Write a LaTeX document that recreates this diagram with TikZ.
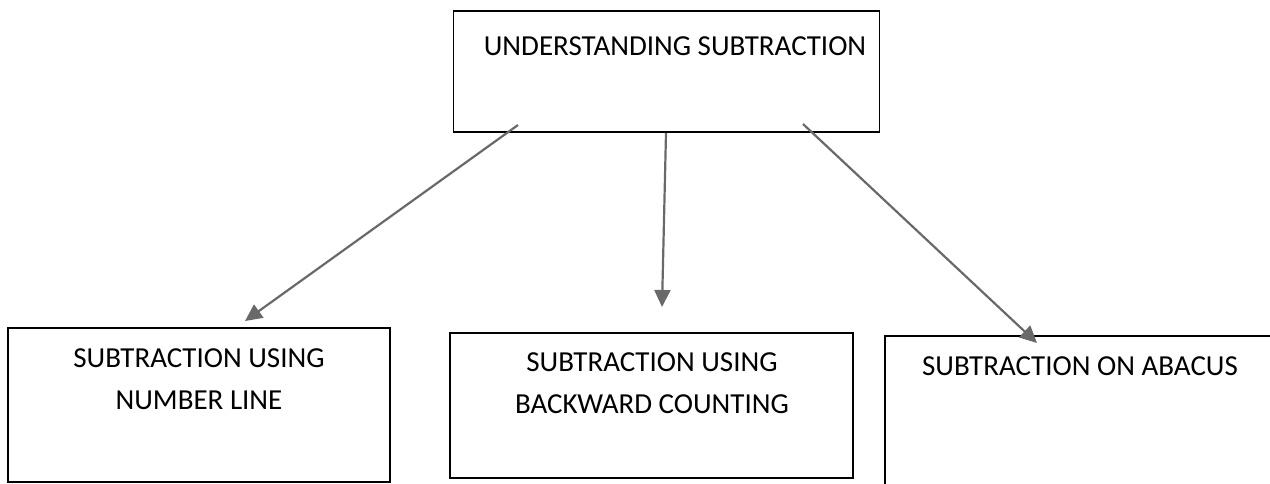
\documentclass[tikz,border=0pt]{standalone}
\usepackage{fontspec}
\setmainfont{Carlito}
\usetikzlibrary{arrows.meta}
\definecolor{arrgray}{RGB}{105,105,105}
\begin{document}
\begin{tikzpicture}[x=1pt,y=-1pt,
  box/.style={draw=black, line width=1.8pt, inner sep=0pt, outer sep=0pt},
  lbl/.style={font=\fontsize{29}{42}\selectfont, align=center, inner sep=0pt},
  arr/.style={draw=arrgray, line width=2.2pt, -{Triangle[length=17pt,width=16pt]}}]
\useasboundingbox (0,0) rectangle (1270,483);
\clip (0,0) rectangle (1270,483);
\node[box, minimum width=426pt, minimum height=121pt] (top) at (666.5,71.5) {};
\node[lbl] (toptxt) at (675,46) {UNDERSTANDING SUBTRACTION};
\node[box, minimum width=382pt, minimum height=154pt] (nl) at (199,405) {};
\node[lbl] (nltxt) at (199,379) {SUBTRACTION USING\\NUMBER LINE};
\node[box, minimum width=403pt, minimum height=145pt] (bc) at (651.5,405.5) {};
\node[lbl] (bctxt) at (652,383) {SUBTRACTION USING\\BACKWARD COUNTING};
\node[box, minimum width=420pt, minimum height=180pt] (ab) at (1095,426) {};
\node[lbl] (abtxt) at (1080,366) {SUBTRACTION ON ABACUS};
\coordinate (s1) at (518,125); \coordinate (e1) at (245,321);
\coordinate (s2) at (666,133); \coordinate (e2) at (662,307);
\coordinate (s3) at (803,124); \coordinate (e3) at (1037,343);
\draw[arr] (s1) -- (e1);
\draw[arr] (s2) -- (e2);
\draw[arr] (s3) -- (e3);
\end{tikzpicture}
\end{document}
